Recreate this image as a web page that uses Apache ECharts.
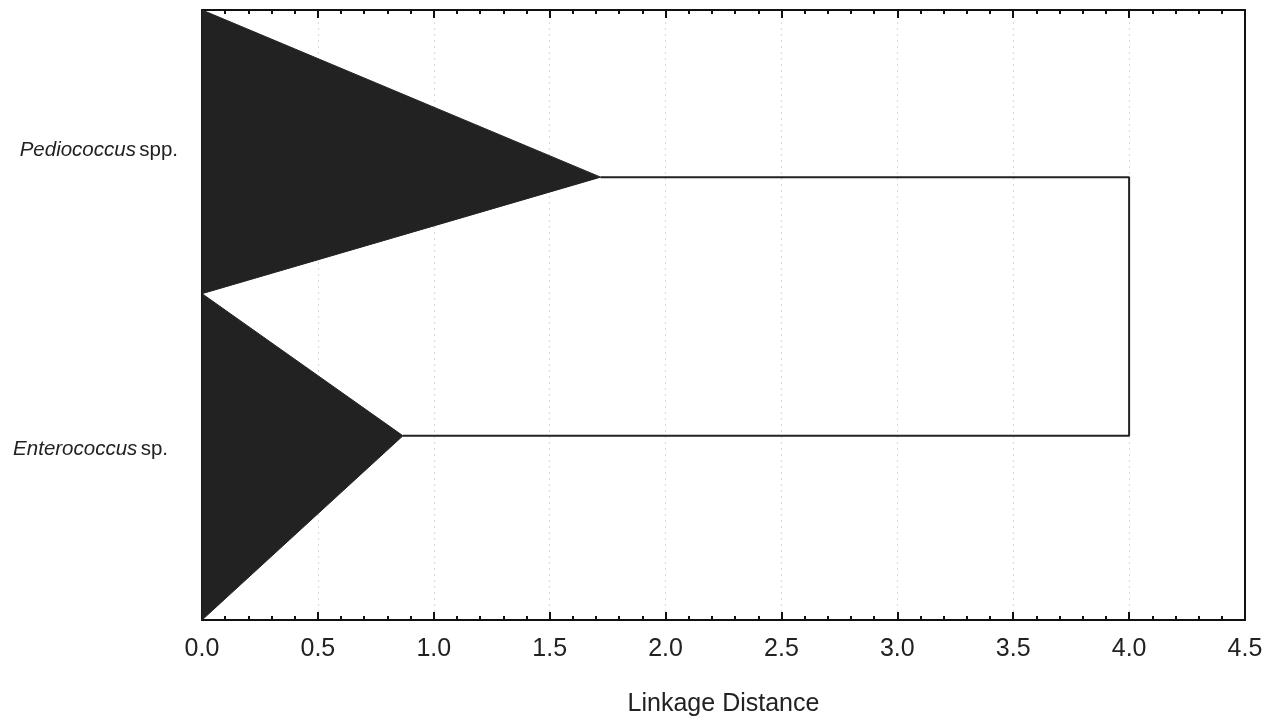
<!DOCTYPE html>
<html>
<head>
<meta charset="utf-8">
<script src="https://cdn.jsdelivr.net/npm/echarts@6/dist/echarts.min.js"></script>
<style>html,body{margin:0;padding:0;background:#fff;}#c{width:1276px;height:717px;}</style>
</head>
<body>
<div id="c"></div>
<script>
// Leaf clusters (genus label, suffix, label y-position)
var leafGenus = ['Pediococcus', 'Enterococcus'];
var leafSuffix = ['spp.', 'sp.'];
var leafLabelY = [23, 72];
// Cluster wedges: [x, y] vertices (x = linkage distance, y = leaf-space position 0..100)
var pedioWedge = [[0, 0], [1.72, 27.4], [0, 46.5]];
var enteroWedge = [[0, 46.5], [0.867, 69.8], [0, 100]];
// Joining link between the two clusters at distance 4.0
var joinLink = [[1.72, 27.4], [4.0, 27.4], [4.0, 69.8], [0.867, 69.8]];
var xTicks = [0, 0.5, 1, 1.5, 2, 2.5, 3, 3.5, 4, 4.5];

var chart = echarts.init(document.getElementById('c'));
var polyRender = function (params, api) {
  var pts = params.seriesIndex === 0 ? pedioWedge : enteroWedge;
  return {
    type: 'polygon',
    shape: { points: pts.map(function (p) { return api.coord(p); }) },
    style: { fill: '#222222', stroke: '#222222', lineWidth: 1 }
  };
};
var font = 'Liberation Sans, Arial, sans-serif';
chart.setOption({
  animation: false,
  backgroundColor: '#ffffff',
  grid: { left: 202, right: 31, top: 10, bottom: 97, containLabel: false, outerBoundsMode: 'none' },
  xAxis: [{
    type: 'value', min: 0, max: 4.5, interval: 0.5, position: 'bottom',
    name: 'Linkage Distance', nameLocation: 'middle', nameGap: 72,
    nameTextStyle: { fontFamily: font, fontSize: 25, color: '#222' },
    axisLine: { show: true, onZero: false, lineStyle: { color: '#111', width: 2 } },
    axisTick: { show: true, inside: true, length: 8, lineStyle: { color: '#111', width: 2 } },
    minorTick: { show: true, splitNumber: 5, length: 4, lineStyle: { color: '#111', width: 2 } },
    axisLabel: { fontFamily: font, fontSize: 25, color: '#222', margin: 17,
      formatter: function (v) { return v.toFixed(1); } },
    splitLine: { show: true, lineStyle: { color: '#d8d8d8', type: [2, 4], width: 1 } }
  }, {
    type: 'value', min: 0, max: 4.5, interval: 0.5, position: 'top',
    axisLine: { show: true, onZero: false, lineStyle: { color: '#111', width: 2 } },
    axisTick: { show: true, inside: true, length: 8, lineStyle: { color: '#111', width: 2 } },
    minorTick: { show: true, splitNumber: 5, length: 4, lineStyle: { color: '#111', width: 2 } },
    axisLabel: { show: false },
    splitLine: { show: false }
  }],
  yAxis: [{
    type: 'value', min: 0, max: 100, inverse: true, position: 'left',
    axisLine: { show: true, onZero: false, lineStyle: { color: '#111', width: 2 } },
    axisTick: { show: false },
    splitLine: { show: false },
    axisLabel: {
      show: true, customValues: leafLabelY, margin: 24,
      formatter: function (v) {
        var i = leafLabelY.indexOf(v);
        if (i < 0) return '';
        return '{i|' + leafGenus[i] + '} {n|' + leafSuffix[i] + '}' + (i === 1 ? '{p|}' : '');
      },
      rich: {
        i: { fontFamily: font, fontStyle: 'italic', fontSize: 20.5, color: '#222' },
        n: { fontFamily: font, fontSize: 20.5, color: '#222' },
        p: { width: 10 }
      }
    }
  }, {
    type: 'value', min: 0, max: 100, inverse: true, position: 'right',
    axisLine: { show: true, onZero: false, lineStyle: { color: '#111', width: 2 } },
    axisTick: { show: false }, axisLabel: { show: false }, splitLine: { show: false }
  }],
  series: [{
    type: 'custom', renderItem: polyRender, data: [0], silent: true, z: 3
  }, {
    type: 'custom', renderItem: polyRender, data: [0], silent: true, z: 3
  }, {
    type: 'line', data: joinLink, showSymbol: false, symbol: 'none', silent: true, z: 2,
    lineStyle: { color: '#222', width: 2 }
  }]
});
</script>
</body>
</html>
